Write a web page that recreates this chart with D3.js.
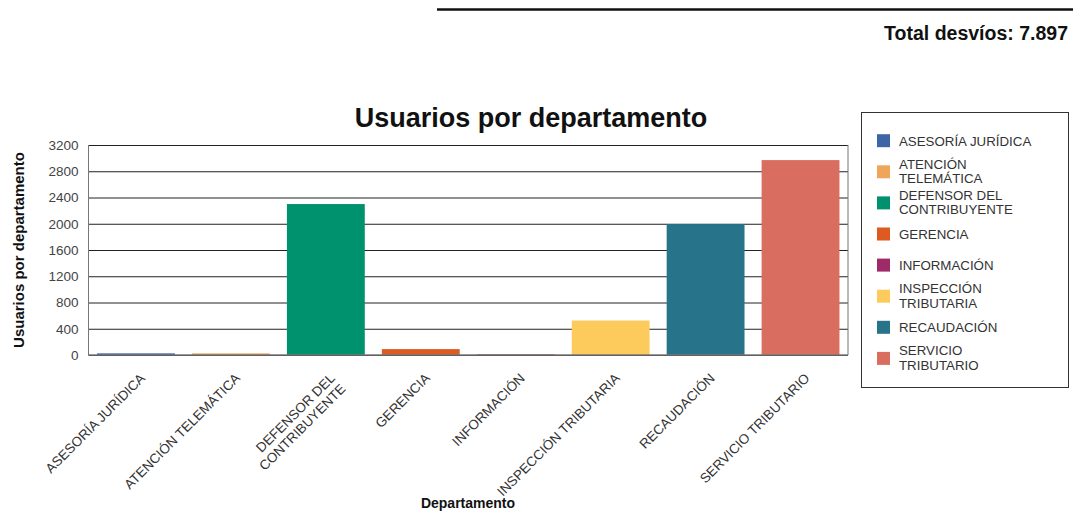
<!DOCTYPE html>
<html>
<head>
<meta charset="utf-8">
<script src="https://cdn.jsdelivr.net/npm/d3@7"></script>
<style>
  html, body { margin: 0; padding: 0; background: #fff; }
  svg { display: block; font-family: "Liberation Sans", Arial, sans-serif; }
</style>
</head>
<body>
<svg id="chart" width="1073" height="511"></svg>
<script>
// ---- data ----
const categories = ["ASESORÍA JURÍDICA", "ATENCIÓN TELEMÁTICA", "DEFENSOR DEL CONTRIBUYENTE", "GERENCIA",
                    "INFORMACIÓN", "INSPECCIÓN TRIBUTARIA", "RECAUDACIÓN", "SERVICIO TRIBUTARIO"];
const axisLabelLines = [["ASESORÍA JURÍDICA"], ["ATENCIÓN TELEMÁTICA"], ["DEFENSOR DEL", "CONTRIBUYENTE"], ["GERENCIA"],
                        ["INFORMACIÓN"], ["INSPECCIÓN TRIBUTARIA"], ["RECAUDACIÓN"], ["SERVICIO TRIBUTARIO"]];
const legendLabelLines = [["ASESORÍA JURÍDICA"], ["ATENCIÓN", "TELEMÁTICA"], ["DEFENSOR DEL", "CONTRIBUYENTE"], ["GERENCIA"],
                          ["INFORMACIÓN"], ["INSPECCIÓN", "TRIBUTARIA"], ["RECAUDACIÓN"], ["SERVICIO", "TRIBUTARIO"]];
const values = [25, 25, 2300, 90, 10, 525, 1995, 2970];
const colors = ["#3e66a6", "#efa65a", "#00916f", "#dd5a21", "#9f2a6a", "#fdca5c", "#26738a", "#d96d5f"];
const yTicks = [0, 400, 800, 1200, 1600, 2000, 2400, 2800, 3200];
const totalText = "Total desvíos: 7.897";
const titleText = "Usuarios por departamento";
const yTitle = "Usuarios por departamento";
const xTitle = "Departamento";

// ---- layout ----
const svg = d3.select("#chart");
const plot = { left: 88.5, right: 848, top: 145, bottom: 355 };

const x = d3.scaleBand().domain(categories).range([plot.left, plot.right])
  .paddingInner(0.18).paddingOuter(0.09);
const y = d3.scaleLinear().domain([0, 3200]).range([plot.bottom, plot.top]);

// header line and total
svg.append("line").attr("x1", 437).attr("x2", 1073).attr("y1", 9.5).attr("y2", 9.5)
  .attr("stroke", "#111").attr("stroke-width", 2.5);
svg.append("text").attr("x", 1068).attr("y", 40).attr("text-anchor", "end")
  .attr("font-weight", "bold").attr("font-size", 19.5).attr("fill", "#111").text(totalText);

// title
svg.append("text").attr("x", 531).attr("y", 127).attr("text-anchor", "middle")
  .attr("font-weight", "bold").attr("font-size", 27).attr("fill", "#111").text(titleText);

// gridlines
const yAxis = d3.axisLeft(y).tickValues(yTicks).tickSize(-(plot.right - plot.left)).tickPadding(10)
  .tickFormat(d3.format("d"));
const gy = svg.append("g").attr("transform", `translate(${plot.left},0)`).call(yAxis);
gy.select(".domain").remove();
gy.selectAll(".tick line").attr("stroke", "#222").attr("stroke-width", 1);
gy.selectAll(".tick text").attr("font-size", 13.5).attr("fill", "#444")
  .attr("font-family", "Liberation Sans, Arial, sans-serif");

// frame (left, right, bottom)
svg.append("line").attr("x1", plot.left).attr("x2", plot.left).attr("y1", plot.top).attr("y2", plot.bottom)
  .attr("stroke", "#777");
svg.append("line").attr("x1", plot.right).attr("x2", plot.right).attr("y1", plot.top).attr("y2", plot.bottom)
  .attr("stroke", "#777");

// bars
svg.append("g").selectAll("rect").data(categories).join("rect")
  .attr("x", d => x(d)).attr("width", x.bandwidth())
  .attr("y", (d, i) => y(values[i])).attr("height", (d, i) => y(0) - y(values[i]))
  .attr("fill", (d, i) => colors[i]);

svg.append("line").attr("x1", plot.left).attr("x2", plot.right).attr("y1", plot.bottom).attr("y2", plot.bottom)
  .attr("stroke", "#777").attr("stroke-width", 1.5);

// x axis labels
const xAxis = d3.axisBottom(x).tickSize(0).tickFormat("");
const gx = svg.append("g").attr("transform", `translate(0,${plot.bottom})`).call(xAxis);
gx.select(".domain").remove();
gx.selectAll(".tick").each(function(d, i) {
  const lines = axisLabelLines[i];
  const t = d3.select(this).append("text")
    .attr("transform", "translate(10,24) rotate(-45)")
    .attr("text-anchor", "end").attr("font-size", 13.5).attr("fill", "#333")
    .attr("font-family", "Liberation Sans, Arial, sans-serif");
  lines.forEach((ln, k) => {
    t.append("tspan").attr("x", 0).attr("y", k * 15).text(ln);
  });
});

// axis titles
svg.append("text").attr("x", 468).attr("y", 508).attr("text-anchor", "middle")
  .attr("font-weight", "bold").attr("font-size", 14).attr("fill", "#111").text(xTitle);
svg.append("text").attr("transform", "translate(24,250) rotate(-90)").attr("text-anchor", "middle")
  .attr("font-weight", "bold").attr("font-size", 15).attr("fill", "#111").text(yTitle);

// legend
svg.append("rect").attr("x", 861.5).attr("y", 112.5).attr("width", 207).attr("height", 275)
  .attr("fill", "none").attr("stroke", "#333").attr("stroke-width", 1);
const lg = svg.append("g");
categories.forEach((c, i) => {
  const cy = 140.7 + i * 31.1;
  lg.append("rect").attr("x", 877).attr("y", cy - 6.5).attr("width", 13).attr("height", 13).attr("fill", colors[i]);
  const lines = legendLabelLines[i];
  const t = lg.append("text").attr("font-size", 13.3).attr("fill", "#333");
  lines.forEach((ln, k) => {
    const by = lines.length === 1 ? cy + 5 : cy - 3 + k * 14.5;
    t.append("tspan").attr("x", 899).attr("y", by).text(ln);
  });
});
</script>
</body>
</html>
